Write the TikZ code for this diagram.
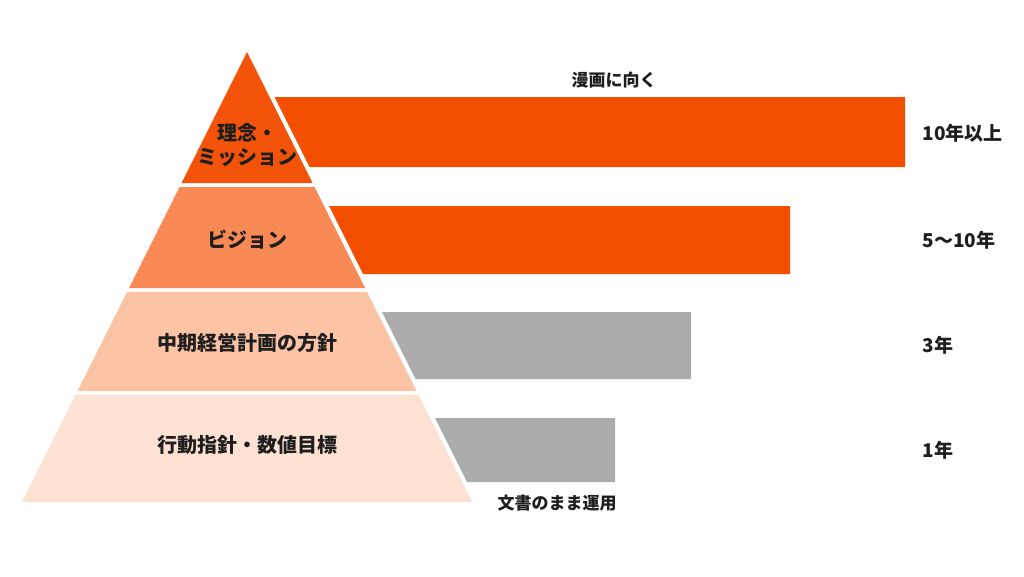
\documentclass[tikz,border=0pt]{standalone}
\usepackage{fontspec}
\usepackage{xcolor}
\usepackage{tikz}
\newfontfamily\jpfont{Noto Sans CJK JP}

\definecolor{layerone}{HTML}{F25308}
\definecolor{layertwo}{HTML}{F98A55}
\definecolor{layerthree}{HTML}{FCC3A5}
\definecolor{layerfour}{HTML}{FDE2D3}
\definecolor{barorange}{HTML}{F24F00}
\definecolor{bargray}{HTML}{ABABAB}
\definecolor{inktext}{HTML}{1E1E1E}

\tikzset{
	layerlabel/.style={text=inktext, font=\jpfont\bfseries\fontsize{20}{24}\selectfont, align=center},
	yearlabel/.style={text=inktext, font=\jpfont\bfseries\fontsize{19}{22}\selectfont, anchor=west},
	notelabel/.style={text=inktext, font=\jpfont\bfseries\fontsize{17}{20}\selectfont}
}

\begin{document}
\begin{tikzpicture}[x=1pt,y=-1pt]

\fill[white] (0,0) rectangle (1024,576);
\useasboundingbox (0,0) rectangle (1024,576);

% pyramid, apex at (247,52), half width = (y-52)/2
\fill[layerone] (247,52)--(181.5,183)--(312.5,183)--cycle;
\fill[layertwo] (179.5,187)--(314.5,187)--(365,288)--(129,288)--cycle;
\fill[layerthree] (127,292)--(367,292)--(416.5,391)--(77.5,391)--cycle;
\fill[layerfour] (75.5,395)--(418.5,395)--(472,502)--(22,502)--cycle;

% bars, left edge parallel to the pyramid side
\foreach \t/\b/\r/\c in {97/167/905/barorange, 206/274/790/barorange, 312/379/691/bargray, 418/482/615/bargray}{
	\fill[\c] ({252+0.5*(\t-52)},\t)--(\r,\t)--(\r,\b)--({252+0.5*(\b-52)},\b)--cycle;
}

\node[layerlabel] (mission) at (247,145) {理念・\\ミッション};
\node[layerlabel] (vision) at (247,240) {ビジョン};
\node[layerlabel] (midplan) at (247,343) {中期経営計画の方針};
\node[layerlabel] (action) at (247,445) {行動指針・数値目標};

\node[yearlabel] (yearone) at (919,133) {10年以上};
\node[yearlabel] (yeartwo) at (919,240) {5～10年};
\node[yearlabel] (yearthree) at (919,345) {3年};
\node[yearlabel] (yearfour) at (919,450) {1年};

\node[notelabel] (manga) at (614,80) {漫画に向く};
\node[notelabel] (document) at (557,503) {文書のまま運用};

\end{tikzpicture}
\end{document}
